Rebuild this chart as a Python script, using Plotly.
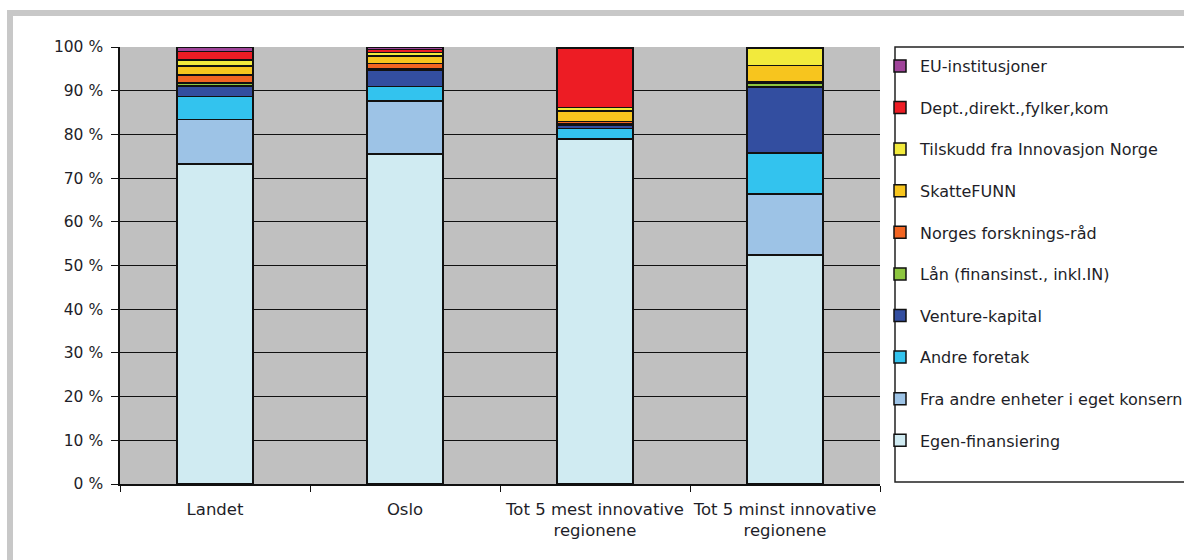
import plotly.graph_objects as go

categories = ["Landet", "Oslo", "Tot 5 mest innovative<br>regionene", "Tot 5 minst innovative<br>regionene"]

series_names = [
    "Egen-finansiering",
    "Fra andre enheter i eget konsern",
    "Andre foretak",
    "Venture-kapital",
    "Lån (finansinst., inkl.IN)",
    "Norges forsknings-råd",
    "SkatteFUNN",
    "Tilskudd fra Innovasjon Norge",
    "Dept.,direkt.,fylker,kom",
    "EU-institusjoner",
]

egen = [73.2, 75.1, 78.9, 52.4]
fra_andre = [10.2, 12.0, 0.2, 14.0]
andre_foretak = [5.3, 3.3, 2.3, 9.3]
venture = [2.4, 3.8, 0.6, 15.1]
laan = [0.7, 0.3, 0.4, 0.8]
norges_fr = [1.8, 1.2, 0.6, 0.4]
skattefunn = [2.1, 1.7, 2.3, 3.8]
tilskudd = [1.3, 0.8, 0.8, 4.0]
dept = [2.0, 0.6, 13.6, 0.1]
eu = [1.0, 0.6, 0.3, 0.1]

series_values = [egen, fra_andre, andre_foretak, venture, laan, norges_fr,
                 skattefunn, tilskudd, dept, eu]

colors = ["#d0ebf2", "#9dc3e6", "#33c3ee", "#334ea0", "#8dc63f",
          "#f26522", "#f7c51e", "#f2ea3c", "#ed1c24", "#a0449a"]

y_tickvals = [0, 10, 20, 30, 40, 50, 60, 70, 80, 90, 100]
y_ticktext = [f"{v} %" for v in y_tickvals]

FONT = "DejaVu Sans, Verdana, sans-serif"
TXT = "#1e1e28"
W, H = 1184, 560

# normalise each column to 100 %
totals = [sum(s[i] for s in series_values) for i in range(len(categories))]

fig = go.Figure()
n = len(series_names)
for i, (name, vals, col) in enumerate(zip(series_names, series_values, colors)):
    fig.add_trace(go.Bar(
        x=categories,
        y=[v / t * 100 for v, t in zip(vals, totals)],
        name=name,
        legendgroup=name,
        legendrank=n - i,
        marker=dict(color=col, line=dict(color="#111111", width=1.5)),
        width=0.4,
    ))

fig.update_layout(
    barmode="stack",
    width=W, height=H,
    margin=dict(l=120, r=304, t=47, b=76, autoexpand=False),
    paper_bgcolor="white",
    plot_bgcolor="#c0c0c0",
    font=dict(family=FONT, size=15, color=TXT),
    showlegend=True,
    legend=dict(
        traceorder="grouped",
        tracegroupgap=17.8,
        xref="container", yref="container",
        x=880 / W, xanchor="left",
        y=1 - 49 / H, yanchor="top",
        maxheight=H,
        bgcolor="rgba(0,0,0,0)",
        borderwidth=0,
        font=dict(family=FONT, size=16, color=TXT),
        itemwidth=30,
    ),
)

fig.update_yaxes(
    range=[0, 100],
    tickvals=y_tickvals,
    ticktext=y_ticktext,
    showgrid=True, gridcolor="#111111", gridwidth=1,
    showline=True, linecolor="#111111", linewidth=1.5,
    ticks="outside", ticklen=7, tickcolor="#111111",
    tickfont=dict(size=15.5),
    ticklabelstandoff=5,
    zeroline=False,
    automargin=False,
)
fig.update_xaxes(
    showline=True, linecolor="#111111", linewidth=1.5,
    ticks="outside", ticklen=6, tickcolor="#111111",
    tickson="boundaries",
    tickfont=dict(size=16.5),
    tickangle=0,
    ticklabelstandoff=9,
    showgrid=False,
    automargin=False,
)

# outer light grey frame
fig.add_shape(type="rect", xref="paper", yref="paper",
              x0=(10 - 120) / 760, x1=1.6, y0=-0.3, y1=(484 - 13) / 437,
              line=dict(color="#c8c8c8", width=6), fillcolor="rgba(0,0,0,0)",
              layer="below")
# legend box
fig.add_shape(type="rect", xref="paper", yref="paper",
              x0=(895 - 120) / 760, x1=1.5, y0=(484 - 482) / 437, y1=1.0,
              line=dict(color="#222222", width=1.5), fillcolor="white",
              layer="below")

fig.write_html(
    "out.html",
    config={"displayModeBar": False},
    post_script="document.body.style.margin='0';document.body.style.overflow='hidden';",
)
